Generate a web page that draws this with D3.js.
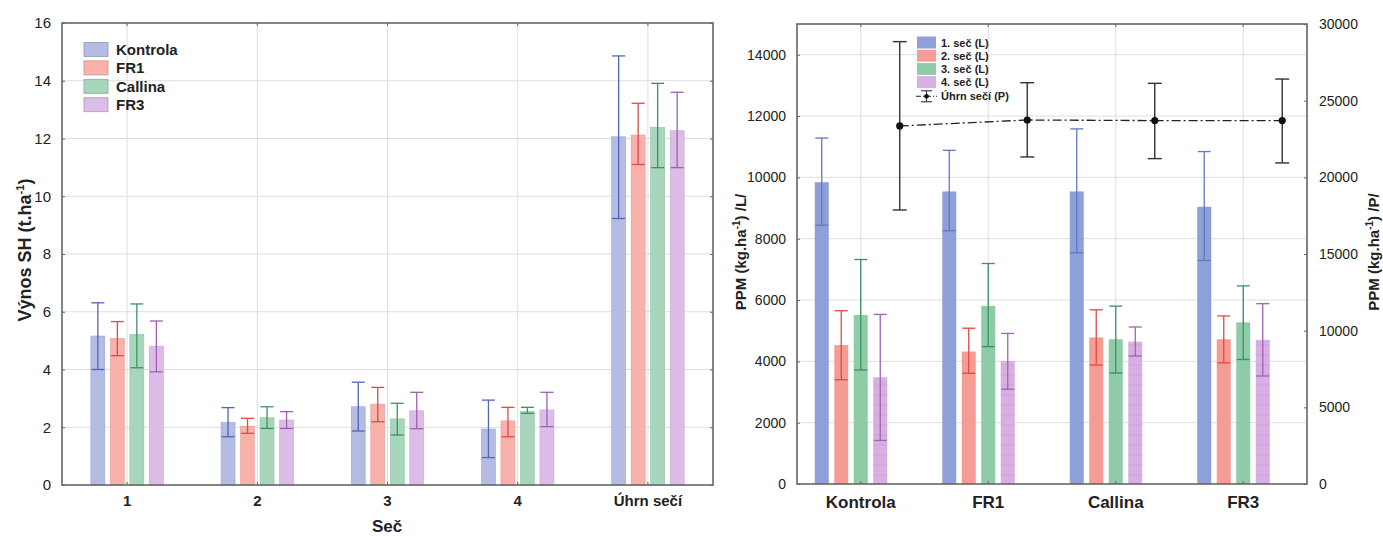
<!DOCTYPE html>
<html>
<head>
<meta charset="utf-8">
<script src="https://cdn.jsdelivr.net/npm/d3@7"></script>
<style>
  body { margin: 0; background: #fff; }
  text { font-family: "Liberation Sans", Arial, sans-serif; fill: #222; }
</style>
</head>
<body>
<svg id="chart" width="1383" height="536"></svg>
<script>
// ---- data, left panel: yield per cut (t/ha) ----
var cuts = ["1", "2", "3", "4", "Úhrn sečí"];
var varieties = ["Kontrola", "FR1", "Callina", "FR3"];
var yieldMean = [
  [5.16, 2.17, 2.71, 1.94, 12.06],
  [5.08, 2.04, 2.80, 2.22, 12.12],
  [5.22, 2.33, 2.29, 2.54, 12.39],
  [4.81, 2.25, 2.57, 2.60, 12.27]
];
var yieldLow = [
  [4.00, 1.67, 1.87, 0.95, 9.23],
  [4.48, 1.79, 2.19, 1.67, 11.10],
  [4.06, 1.96, 1.73, 2.48, 10.99],
  [3.92, 1.96, 1.95, 2.02, 10.99]
];
var yieldHigh = [
  [6.31, 2.68, 3.56, 2.94, 14.86],
  [5.66, 2.31, 3.38, 2.69, 13.22],
  [6.27, 2.71, 2.83, 2.69, 13.91],
  [5.68, 2.54, 3.21, 3.21, 13.60]
];
var yieldTicks = [0, 2, 4, 6, 8, 10, 12, 14, 16];

// ---- data, right panel: PPM per variety (kg/ha) ----
var cutSeries = ["1. seč (L)", "2. seč (L)", "3. seč (L)", "4. seč (L)"];
var totalName = "Úhrn sečí (P)";
var ppmMean = [
  [9840, 9540, 9540, 9040],
  [4530, 4320, 4780, 4720],
  [5510, 5810, 4720, 5270],
  [3480, 4010, 4640, 4700]
];
var ppmLow = [
  [8440, 8260, 7540, 7290],
  [3400, 3610, 3880, 3950],
  [3720, 4480, 3620, 4060],
  [1420, 3090, 4170, 3520]
];
var ppmHigh = [
  [11280, 10880, 11580, 10840],
  [5650, 5080, 5680, 5480],
  [7320, 7190, 5800, 6460],
  [5530, 4910, 5120, 5880]
];
var totalMean = [23350, 23740, 23700, 23700];
var totalLow = [17870, 21330, 21220, 20940];
var totalHigh = [28850, 26170, 26130, 26410];
var ppmTicksL = [0, 2000, 4000, 6000, 8000, 10000, 12000, 14000];
var ppmTicksR = [0, 5000, 10000, 15000, 20000, 25000, 30000];

var leftFill = ["#b4bce4", "#f8b1ab", "#a8d6bc", "#dcbde8"];
var leftErr = ["#5264b4", "#e04a44", "#3b9163", "#9e60b3"];
var rightFill = ["#8e9fd9", "#f59d94", "#8ecba7", "#d8afe3"];
var rightErr = ["#6577c2", "#e04a44", "#3b9163", "#a063b5"];

var svg = d3.select("#chart");
var font = "Liberation Sans, Arial, sans-serif";

svg.append("defs").append("pattern")
    .attr("id", "hatch")
    .attr("patternUnits", "userSpaceOnUse")
    .attr("width", 8).attr("height", 10)
  .append("line")
    .attr("x1", 0).attr("x2", 8).attr("y1", 5).attr("y2", 5)
    .attr("stroke", "#b78cc6").attr("stroke-opacity", 0.35).attr("stroke-width", 1);

function frame(g, x0, x1, y0, y1) {
  g.append("rect")
    .attr("x", x0).attr("y", y1)
    .attr("width", x1 - x0).attr("height", y0 - y1)
    .attr("fill", "none").attr("stroke", "#666").attr("stroke-width", 1.6);
}

function errBar(g, x, yTop, yBot, w, color, sw) {
  g.append("line").attr("x1", x).attr("x2", x).attr("y1", yTop).attr("y2", yBot)
    .attr("stroke", color).attr("stroke-width", sw);
  [yTop, yBot].forEach(function (yy) {
    g.append("line").attr("x1", x - w / 2).attr("x2", x + w / 2).attr("y1", yy).attr("y2", yy)
      .attr("stroke", color).attr("stroke-width", sw);
  });
}

/* ---------------- left panel ---------------- */
var L = { left: 62, right: 713, top: 23, bottom: 485 };
var gl = svg.append("g");

var xL = d3.scaleBand().domain(cuts).range([L.left, L.right]).padding(0);
var sL = d3.scalePoint().domain(varieties).range([-29.25, 29.25]);
var yL = d3.scaleLinear().domain([0, 16]).range([L.bottom, L.top]);
var barW = 14;

// grid
gl.selectAll(".hg").data(yieldTicks.slice(1, -1)).enter().append("line")
  .attr("x1", L.left).attr("x2", L.right)
  .attr("y1", function (d) { return yL(d); }).attr("y2", function (d) { return yL(d); })
  .attr("stroke", "#dedede").attr("stroke-width", 1);
gl.selectAll(".vg").data(cuts).enter().append("line")
  .attr("x1", function (d) { return xL(d) + xL.bandwidth() / 2; })
  .attr("x2", function (d) { return xL(d) + xL.bandwidth() / 2; })
  .attr("y1", L.top).attr("y2", L.bottom)
  .attr("stroke", "#dedede").attr("stroke-width", 1);

// bars + error bars
varieties.forEach(function (v, i) {
  cuts.forEach(function (c, j) {
    var cx = xL(c) + xL.bandwidth() / 2 + sL(v);
    gl.append("rect")
      .attr("x", cx - barW / 2).attr("y", yL(yieldMean[i][j]))
      .attr("width", barW).attr("height", yL(0) - yL(yieldMean[i][j]))
      .attr("fill", leftFill[i]).attr("stroke", d3.color(leftFill[i]).darker(0.3)).attr("stroke-width", 0.6);
    errBar(gl, cx, yL(yieldHigh[i][j]), yL(yieldLow[i][j]), 13, leftErr[i], 1.3);
  });
});

frame(gl, L.left, L.right, L.bottom, L.top);

// axes
var axL = gl.append("g").attr("transform", "translate(" + L.left + ",0)")
  .call(d3.axisLeft(yL).tickValues(yieldTicks).tickSize(-3).tickPadding(11));
axL.select(".domain").remove();
axL.selectAll("line").attr("stroke", "#666");
axL.selectAll("text").attr("font-size", 15).attr("font-family", font).attr("fill", "#333");
var axLr = gl.append("g").attr("transform", "translate(" + L.right + ",0)")
  .call(d3.axisRight(yL).tickValues(yieldTicks).tickSize(-3).tickFormat(""));
axLr.select(".domain").remove();
axLr.selectAll("line").attr("stroke", "#666");

var axB = gl.append("g").attr("transform", "translate(0," + L.bottom + ")")
  .call(d3.axisBottom(xL).tickSize(-3).tickPadding(10));
axB.select(".domain").remove();
axB.selectAll("line").attr("stroke", "#666");
axB.selectAll("text").attr("font-size", 15).attr("font-weight", "bold").attr("font-family", font).attr("fill", "#222");
var axT = gl.append("g").attr("transform", "translate(0," + L.top + ")")
  .call(d3.axisTop(xL).tickSize(-3).tickFormat(""));
axT.select(".domain").remove();
axT.selectAll("line").attr("stroke", "#666");

// axis titles
var yt = gl.append("text")
  .attr("transform", "translate(25,250) rotate(-90)")
  .attr("text-anchor", "middle").attr("dy", "0.35em")
  .attr("font-size", 18).attr("font-weight", "bold");
yt.append("tspan").text("Výnos SH (t.ha");
yt.append("tspan").text("-1").attr("font-size", 11).attr("dy", -7);
yt.append("tspan").text(")").attr("dy", 7);

gl.append("text").attr("x", 387).attr("y", 532)
  .attr("text-anchor", "middle").attr("font-size", 17).attr("font-weight", "bold").text("Seč");

// legend
varieties.forEach(function (v, i) {
  var cy = 49.5 + i * 18.4;
  gl.append("rect").attr("x", 84).attr("y", cy - 7).attr("width", 24).attr("height", 14)
    .attr("fill", leftFill[i]).attr("stroke", d3.color(leftFill[i]).darker(0.6)).attr("stroke-width", 0.8);
  gl.append("text").attr("x", 116).attr("y", cy + 5.5)
    .attr("font-size", 15).attr("font-weight", "bold").text(v);
});

/* ---------------- right panel ---------------- */
var R = { left: 797, right: 1307, top: 24, bottom: 484 };
var gr = svg.append("g");

var xR = d3.scaleBand().domain(varieties).range([R.left, R.right]).padding(0);
var sR = d3.scalePoint().domain(cutSeries.concat([totalName])).range([-39, 39]);
var yRL = d3.scaleLinear().domain([0, 15000]).range([R.bottom, R.top]);
var yRR = d3.scaleLinear().domain([0, 30000]).range([R.bottom, R.top]);

gr.selectAll(".hg").data(ppmTicksL.slice(1)).enter().append("line")
  .attr("x1", R.left).attr("x2", R.right)
  .attr("y1", function (d) { return yRL(d); }).attr("y2", function (d) { return yRL(d); })
  .attr("stroke", "#dedede").attr("stroke-width", 1);
gr.selectAll(".vg").data(varieties).enter().append("line")
  .attr("x1", function (d) { return xR(d) + xR.bandwidth() / 2; })
  .attr("x2", function (d) { return xR(d) + xR.bandwidth() / 2; })
  .attr("y1", R.top).attr("y2", R.bottom)
  .attr("stroke", "#dedede").attr("stroke-width", 1);

cutSeries.forEach(function (s, i) {
  varieties.forEach(function (v, j) {
    var cx = xR(v) + xR.bandwidth() / 2 + sR(s);
    gr.append("rect")
      .attr("x", cx - barW / 2).attr("y", yRL(ppmMean[i][j]))
      .attr("width", barW).attr("height", yRL(0) - yRL(ppmMean[i][j]))
      .attr("fill", rightFill[i]);
    if (i == 3) {
      gr.append("rect")
        .attr("x", cx - barW / 2).attr("y", yRL(ppmMean[i][j]))
        .attr("width", barW).attr("height", yRL(0) - yRL(ppmMean[i][j]))
        .attr("fill", "url(#hatch)");
    }
    errBar(gr, cx, yRL(ppmHigh[i][j]), yRL(ppmLow[i][j]), 13, rightErr[i], 1.3);
  });
});

// total line (right axis)
var totX = function (v) { return xR(v) + xR.bandwidth() / 2 + sR(totalName); };
var totLine = d3.line()
  .x(function (d) { return totX(d.v); })
  .y(function (d) { return yRR(d.m); });
var totData = varieties.map(function (v, j) { return { v: v, m: totalMean[j] }; });
gr.append("path").datum(totData)
  .attr("d", totLine).attr("fill", "none")
  .attr("stroke", "#222").attr("stroke-width", 1.3).attr("stroke-dasharray", "9,3,2,3");
varieties.forEach(function (v, j) {
  errBar(gr, totX(v), yRR(totalHigh[j]), yRR(totalLow[j]), 14, "#333", 1.4);
  gr.append("circle").attr("cx", totX(v)).attr("cy", yRR(totalMean[j])).attr("r", 3.6).attr("fill", "#111");
});

frame(gr, R.left, R.right, R.bottom, R.top);

var axRL = gr.append("g").attr("transform", "translate(" + R.left + ",0)")
  .call(d3.axisLeft(yRL).tickValues(ppmTicksL).tickFormat(d3.format("d")).tickSize(-3).tickPadding(11));
axRL.select(".domain").remove();
axRL.selectAll("line").attr("stroke", "#666");
axRL.selectAll("text").attr("font-size", 14).attr("font-family", font).attr("fill", "#333");

var axRR = gr.append("g").attr("transform", "translate(" + R.right + ",0)")
  .call(d3.axisRight(yRR).tickValues(ppmTicksR).tickFormat(d3.format("d")).tickSize(-3).tickPadding(12));
axRR.select(".domain").remove();
axRR.selectAll("line").attr("stroke", "#666");
axRR.selectAll("text").attr("font-size", 14).attr("font-family", font).attr("fill", "#333");

var axRB = gr.append("g").attr("transform", "translate(0," + R.bottom + ")")
  .call(d3.axisBottom(xR).tickSize(-3).tickPadding(12));
axRB.select(".domain").remove();
axRB.selectAll("line").attr("stroke", "#666");
axRB.selectAll("text").attr("font-size", 17).attr("font-weight", "bold").attr("font-family", font).attr("fill", "#222");
var axRT = gr.append("g").attr("transform", "translate(0," + R.top + ")")
  .call(d3.axisTop(xR).tickSize(-3).tickFormat(""));
axRT.select(".domain").remove();
axRT.selectAll("line").attr("stroke", "#666");

function ppmTitle(x, tag) {
  var t = gr.append("text")
    .attr("transform", "translate(" + x + ",252) rotate(-90)")
    .attr("text-anchor", "middle").attr("dy", "0.35em")
    .attr("font-size", 15).attr("font-weight", "bold");
  t.append("tspan").text("PPM (kg.ha");
  t.append("tspan").text("-1").attr("font-size", 10).attr("dy", -6);
  t.append("tspan").text(") /" + tag + "/").attr("dy", 6);
}
ppmTitle(741, "L");
ppmTitle(1374, "P");

// legend
cutSeries.forEach(function (s, i) {
  var cy = 42.5 + i * 13.2;
  gr.append("rect").attr("x", 917).attr("y", cy - 6).attr("width", 19).attr("height", 12)
    .attr("fill", rightFill[i]);
  gr.append("text").attr("x", 941).attr("y", cy + 4)
    .attr("font-size", 11).attr("font-weight", "bold").text(s);
});
var ly = 42.5 + 4 * 13.2 + 1;
gr.append("line").attr("x1", 916).attr("x2", 937).attr("y1", ly).attr("y2", ly)
  .attr("stroke", "#222").attr("stroke-width", 1.1).attr("stroke-dasharray", "5,2,1,2");
errBar(gr, 926.5, ly - 5.5, ly + 5.5, 11, "#333", 1.1);
gr.append("circle").attr("cx", 926.5).attr("cy", ly).attr("r", 2.4).attr("fill", "#111");
gr.append("text").attr("x", 941).attr("y", ly + 4)
  .attr("font-size", 11).attr("font-weight", "bold").text(totalName);
</script>
</body>
</html>
